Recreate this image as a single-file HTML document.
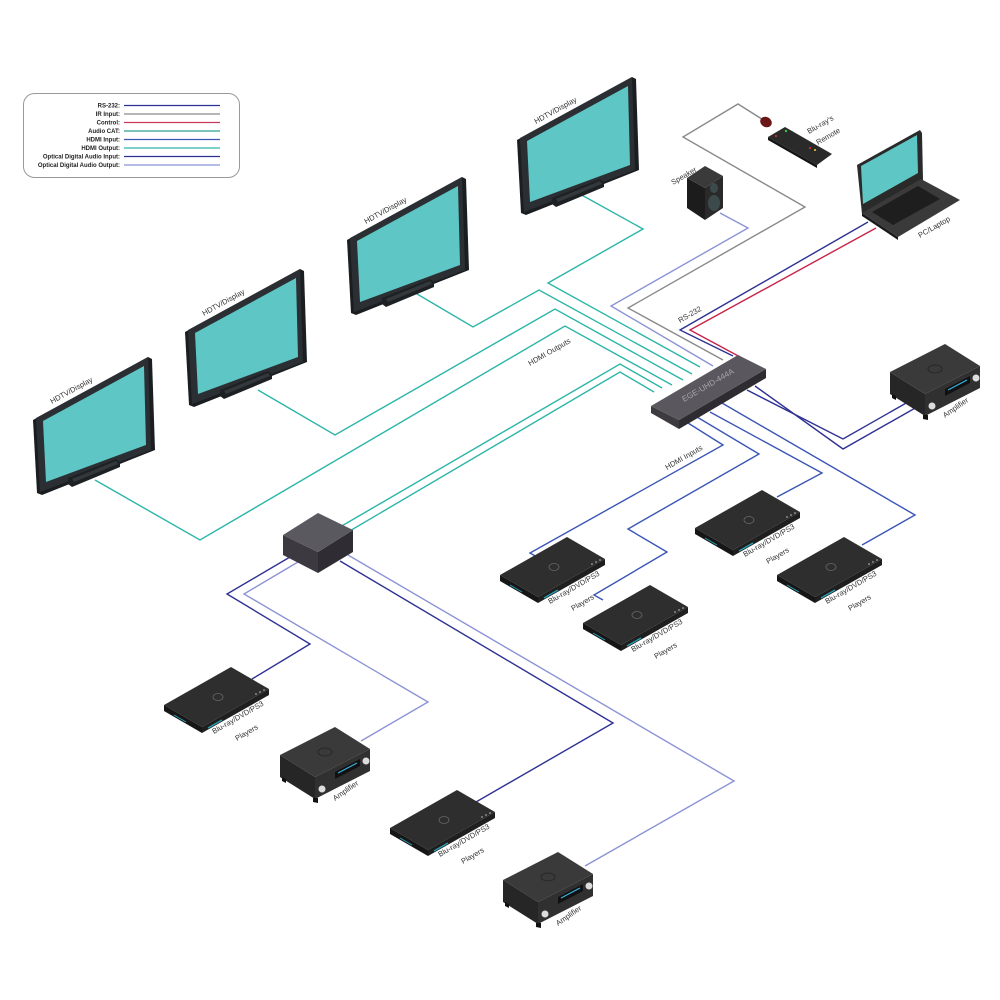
<!DOCTYPE html>
<html><head><meta charset="utf-8"><style>
html,body{margin:0;padding:0;background:#fff;}
svg{display:block;font-family:"Liberation Sans",sans-serif;}
</style></head><body>
<svg width="1000" height="1000" viewBox="0 0 1000 1000" xmlns="http://www.w3.org/2000/svg">
<defs>
<g id="tv">
<polygon points="-3,2 112,-61 116,-59 119,32 6,77 1,75" fill="#1b1e21"/>
<polygon points="0,0 112,-61 115,32 4,74" fill="#2b2f33"/>
<polygon points="7,3 108,-52 110,27 10,64" fill="#5ec6c4"/>
<polygon points="32,60 80,41 84,44 84,49 36,69 32,66" fill="#1e2124"/>
<polygon points="36,61 80,43 82,46 38,64" fill="#33383c"/>
</g>
<g id="player">
<polygon points="0,0 38,22 38,28 0,6" fill="#161616"/>
<polygon points="38,22 105,-16 105,-10 38,28" fill="#1f1f1f"/>
<polygon points="0,0 67,-38 105,-16 38,22" fill="#2e2e2e"/>
<ellipse cx="54" cy="-8" rx="5" ry="3.5" fill="none" stroke="#666" stroke-width="0.8"/>
<line x1="44" y1="23" x2="58" y2="15" stroke="#2a9fb0" stroke-width="1.3"/>
<line x1="10" y1="10" x2="22" y2="17" stroke="#2a9fb0" stroke-width="1"/>
<circle cx="92" cy="-11" r="1" fill="#888"/><circle cx="96" cy="-13" r="1" fill="#888"/><circle cx="100" cy="-15" r="1" fill="#888"/>
</g>
<g id="amp">
<polygon points="0,0 35,22 35,44 0,22" fill="#262626"/>
<polygon points="35,22 90,-6 90,16 35,44" fill="#303030"/>
<polygon points="0,0 55,-28 90,-6 35,22" fill="#3a3a3a"/>
<ellipse cx="45" cy="-3" rx="7" ry="4" fill="none" stroke="#222" stroke-width="0.8"/>
<polygon points="55,17 80,4 80,11 55,24" fill="#111"/>
<line x1="58" y1="18" x2="77" y2="8" stroke="#3ab0e0" stroke-width="1.2"/>
<circle cx="42" cy="34" r="3.5" fill="#ddd"/>
<circle cx="86" cy="6" r="3.5" fill="#ddd"/>
<polygon points="2,22 6,24 6,28 2,26" fill="#111"/>
<polygon points="33,43 38,43 38,48 33,47" fill="#111"/>
</g>
</defs>

<rect x="23.5" y="93.5" width="216" height="84" rx="11" fill="#fff" stroke="#999" stroke-width="1"/>
<g font-size="6" font-weight="bold" text-anchor="end" fill="#222">
<text x="120" y="107.5">RS-232:</text>
<text x="120" y="116">IR Input:</text>
<text x="120" y="124.5">Control:</text>
<text x="120" y="133">Audio CAT:</text>
<text x="120" y="141.5">HDMI Input:</text>
<text x="120" y="150">HDMI Output:</text>
<text x="120" y="158.5">Optical Digital Audio Input:</text>
<text x="120" y="167">Optical Digital Audio Output:</text>
</g>
<g stroke-width="1.3">
<line x1="124" y1="105.5" x2="220" y2="105.5" stroke="#2e3192"/>
<line x1="124" y1="114" x2="220" y2="114" stroke="#8a8a8a"/>
<line x1="124" y1="122.5" x2="220" y2="122.5" stroke="#c8385a"/>
<line x1="124" y1="131" x2="220" y2="131" stroke="#2aa198"/>
<line x1="124" y1="139.5" x2="220" y2="139.5" stroke="#3b55b5"/>
<line x1="124" y1="148" x2="220" y2="148" stroke="#2bb8ac"/>
<line x1="124" y1="156.5" x2="220" y2="156.5" stroke="#2e3192"/>
<line x1="124" y1="165" x2="220" y2="165" stroke="#8c93d6"/>
</g>

<g fill="none" stroke-width="1.4">
<g stroke="#2bb5a8">
<polyline points="578,193 643,229 548,283 700,367"/>
<polyline points="412,291 473,327 539,290 692,374"/>
<polyline points="258,390 335,435 555,309 683,380"/>
<polyline points="95,480 200,540 565,326 672,385"/>
<polyline points="340,527 620,364 662,388"/>
<polyline points="348,532 620,372 654,392"/>
</g>
<polyline stroke="#8c93d6" points="720,213 748,228 611,306 713,366"/>
<polyline stroke="#8a8a8a" points="765,121 738,104 683,137 805,207 628,308 723,360"/>
<polyline stroke="#2e3192" points="868,222 680,330 733,356"/>
<polyline stroke="#c8234a" points="876,228 690,330 742,358"/>
<polyline stroke="#2e3192" points="747,390 843,439 908,402"/>
<polyline stroke="#2e3192" points="755,386 843,449 917,407"/>
<g stroke="#3b55b5">
<polyline points="688,423 723,445 530,553 537,557"/>
<polyline points="697,417 759,454 628,529 667,552 594,595 603,600"/>
<polyline points="710,412 822,473 777,497"/>
<polyline points="722,403 915,515 862,545"/>
</g>
<polyline stroke="#2e3192" points="290,557 227,594 310,644 252,679"/>
<polyline stroke="#8c93d6" points="298,562 244,594 428,702 361,741"/>
<polyline stroke="#2e3192" points="340,561 613,723 476,802"/>
<polyline stroke="#8c93d6" points="348,555 734,781 585,866"/>
</g>

<g font-size="7.5" fill="#333">
<text transform="translate(530,366) rotate(-30)">HDMI Outputs</text>
<text transform="translate(667,470) rotate(-30)">HDMI Inputs</text>
<text transform="translate(680,323) rotate(-30)">RS-232</text>
</g>

<use href="#tv" x="36" y="418"/>
<use href="#tv" x="188" y="330"/>
<use href="#tv" x="350" y="238"/>
<use href="#tv" x="520" y="138"/>
<g font-size="7.5" fill="#333">
<text transform="translate(52,404) rotate(-29)">HDTV/Display</text>
<text transform="translate(204,316) rotate(-29)">HDTV/Display</text>
<text transform="translate(366,224) rotate(-29)">HDTV/Display</text>
<text transform="translate(536,124) rotate(-29)">HDTV/Display</text>
</g>

<polygon points="651,406 679,420 679,429 651,413" fill="#3d3b40"/>
<polygon points="679,420 766,369 766,378 679,429" fill="#2e2c31"/>
<polygon points="651,406 738,355 766,369 679,420" fill="#5a585e"/>
<text transform="translate(684,402) rotate(-30)" font-size="8" fill="#a8a6ad">EGE-UHD-444A</text>

<polygon points="283,535 318,552 318,573 283,555" fill="#3c3a40"/>
<polygon points="318,552 353,530 353,552 318,573" fill="#2f2d33"/>
<polygon points="283,535 318,513 353,530 318,552" fill="#5b5960"/>

<polygon points="687,178 705,188 705,220 687,208" fill="#1c1c1c"/>
<polygon points="705,188 723,176 723,208 705,220" fill="#2a2a2a"/>
<polygon points="687,178 705,166 723,176 705,188" fill="#3a3a3a"/>
<ellipse cx="714" cy="188" rx="4" ry="5" fill="#3d4a4c"/>
<ellipse cx="714" cy="203" rx="6" ry="8" fill="#3d4a4c"/>
<text transform="translate(673,185) rotate(-30)" font-size="7.5" fill="#333">Speaker</text>

<ellipse cx="766" cy="122" rx="6" ry="5" fill="#6b1717" transform="rotate(30 766 122)"/>
<polygon points="768,137 785,127 832,154 817,165" fill="#2a2a2a"/>
<polygon points="768,137 817,165 817,168 768,140" fill="#151515"/>
<circle cx="786" cy="131" r="1.2" fill="#3c3"/>
<circle cx="810" cy="148" r="1" fill="#e33"/><circle cx="815" cy="150" r="1" fill="#fc3"/>
<circle cx="776" cy="136" r="1" fill="#e33"/>
<text transform="translate(809,134) rotate(-30)" font-size="7.5" fill="#333">Blu-ray's</text>
<text transform="translate(818,145) rotate(-30)" font-size="7.5" fill="#333">Remote</text>

<polygon points="857,165 920,130 922,133 923,180 862,214" fill="#2a2a2a"/>
<polygon points="861,166 917,135 918,173 863,204" fill="#5ec6c4"/>
<polygon points="862,213 921,179 960,200 898,237" fill="#3a3a3a"/>
<polygon points="862,213 898,237 898,240 862,216" fill="#1a1a1a"/>
<polygon points="872,212 918,186 940,199 893,225" fill="#1e1e1e"/>
<text transform="translate(920,238) rotate(-30)" font-size="7.5" fill="#333">PC/Laptop</text>

<use href="#amp" x="890" y="372"/>
<use href="#amp" x="280" y="755"/>
<use href="#amp" x="503" y="880"/>
<g font-size="7.5" fill="#333">
<text transform="translate(945,418) rotate(-35)">Amplifier</text>
<text transform="translate(335,801) rotate(-35)">Amplifier</text>
<text transform="translate(558,926) rotate(-35)">Amplifier</text>
</g>

<use href="#player" x="500" y="575"/>
<use href="#player" x="583" y="623"/>
<use href="#player" x="695" y="528"/>
<use href="#player" x="777" y="575"/>
<use href="#player" x="164" y="705"/>
<use href="#player" x="390" y="828"/>
<g font-size="7.5" fill="#333">
<text transform="translate(550,604) rotate(-30)">Blu-ray/DVD/PS3</text><text transform="translate(573,611) rotate(-30)">Players</text>
<text transform="translate(633,652) rotate(-30)">Blu-ray/DVD/PS3</text><text transform="translate(656,659) rotate(-30)">Players</text>
<text transform="translate(745,557) rotate(-30)">Blu-ray/DVD/PS3</text><text transform="translate(768,564) rotate(-30)">Players</text>
<text transform="translate(827,604) rotate(-30)">Blu-ray/DVD/PS3</text><text transform="translate(850,611) rotate(-30)">Players</text>
<text transform="translate(214,734) rotate(-30)">Blu-ray/DVD/PS3</text><text transform="translate(237,741) rotate(-30)">Players</text>
<text transform="translate(440,857) rotate(-30)">Blu-ray/DVD/PS3</text><text transform="translate(463,864) rotate(-30)">Players</text>
</g>
</svg>
</body></html>
